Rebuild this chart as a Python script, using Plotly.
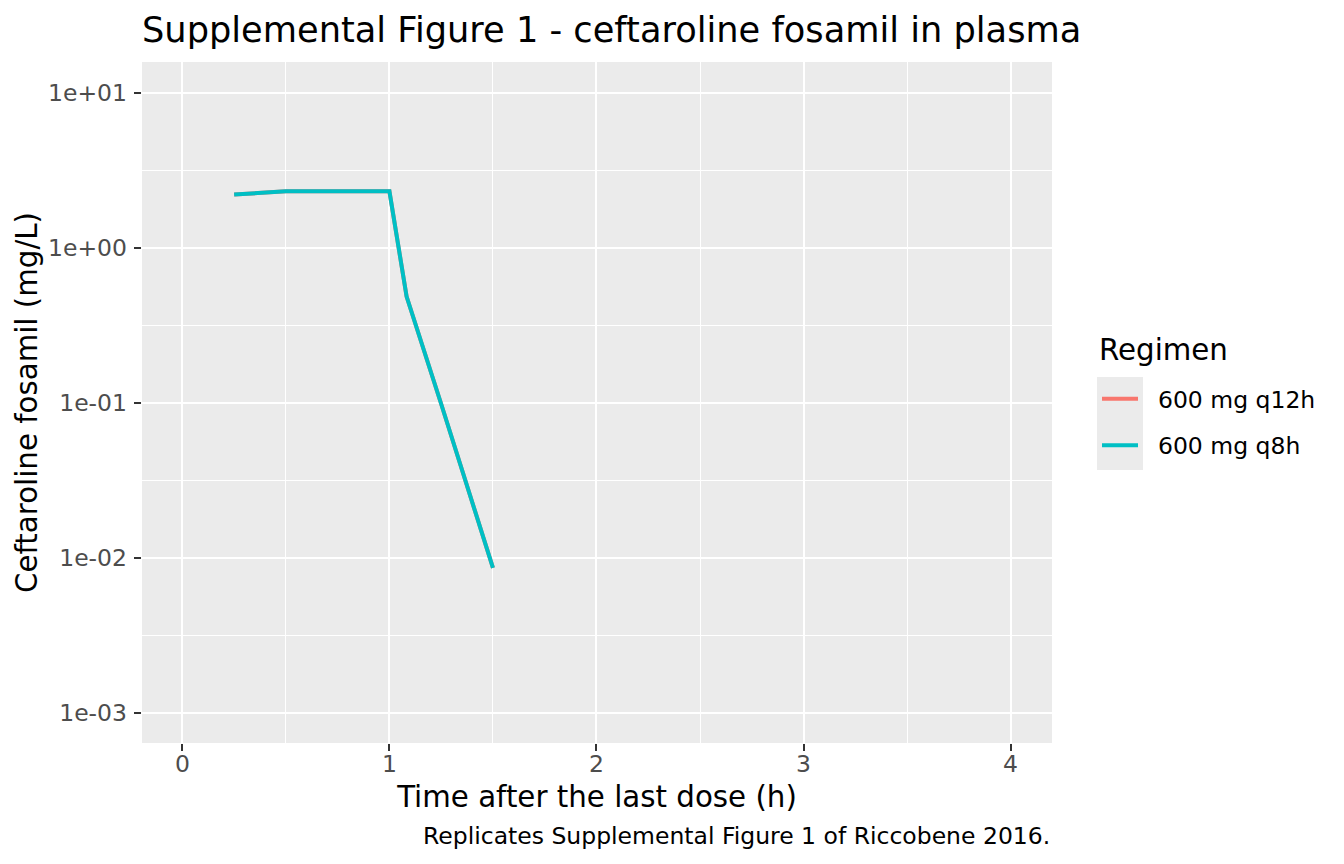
import plotly.graph_objects as go

# Data
time_h = [0.25, 0.5, 1.0, 1.083, 1.25, 1.5]
conc_q12h = [2.20, 2.31, 2.31, 0.483, 0.098, 0.0086]
conc_q8h = [2.20, 2.31, 2.31, 0.483, 0.098, 0.0086]
regimens = ["600 mg q12h", "600 mg q8h"]
colors = ["#F8766D", "#00BFC4"]

x_ticks = [0, 1, 2, 3, 4]
x_minor = [0.5, 1.5, 2.5, 3.5]
y_ticks = [1e-3, 1e-2, 1e-1, 1e0, 1e1]
y_ticktext = ["1e-03", "1e-02", "1e-01", "1e+00", "1e+01"]
y_minor = [10 ** (k + 0.5) for k in range(-4, 2)]

W, H = 1344, 864
L, R, T, B = 142, 1052, 62, 743
FONT = "DejaVu Sans"
TICK_SIZE = 23.5
AXIS_TITLE_SIZE = 29.3
TITLE_SIZE = 35.2
NBSP = "\u00a0"

fig = go.Figure()
for name, ys, col, grp in zip(regimens, [conc_q12h, conc_q8h], colors, ["a", "b"]):
    fig.add_trace(go.Scatter(
        x=time_h, y=ys, mode="lines", name=NBSP * 2 + name, legendgroup=grp,
        line=dict(color=col, width=4),
    ))

axis_common = dict(
    showline=False, zeroline=False,
    gridcolor="#FFFFFF", gridwidth=2.2,
    ticks="outside", ticklen=7.3, tickwidth=2, tickcolor="#333333",
    tickfont=dict(family=FONT, size=TICK_SIZE, color="#4D4D4D"),
)

fig.update_xaxes(
    range=[-0.195, 4.2], tickvals=x_ticks,
    minor=dict(tickvals=x_minor, showgrid=True, gridcolor="#FFFFFF", gridwidth=1.1, ticks=""),
    title=dict(text="Time after the last dose (h)", font=dict(family=FONT, size=AXIS_TITLE_SIZE, color="#000000"), standoff=9),
    ticklabelstandoff=-8,
    **axis_common,
)
fig.update_yaxes(
    type="log", range=[-3.196, 1.198], tickvals=y_ticks, ticktext=y_ticktext,
    minor=dict(tickvals=y_minor, showgrid=True, gridcolor="#FFFFFF", gridwidth=1.1, ticks=""),
    title=dict(text="Ceftaroline fosamil (mg/L)", font=dict(family=FONT, size=AXIS_TITLE_SIZE, color="#000000"), standoff=1),
    ticklabelstandoff=2,
    **axis_common,
)

pw = R - L
ph = B - T
def px_x(p):
    return (p - L) / pw
def px_y(p):
    return (B - p) / ph

fig.update_layout(
    width=W, height=H,
    margin=dict(l=L, r=W - R, t=T, b=H - B, pad=0),
    paper_bgcolor="#FFFFFF", plot_bgcolor="#EBEBEB",
    font=dict(family=FONT, color="#000000"),
    title=dict(
        text="Supplemental Figure 1 - ceftaroline fosamil in plasma",
        font=dict(family=FONT, size=TITLE_SIZE, color="#000000"),
        x=0, xref="paper", xanchor="left",
        y=1 - 30 / H, yref="container", yanchor="middle",
    ),
    legend=dict(
        font=dict(family=FONT, size=TICK_SIZE, color="#000000"),
        x=px_x(1097), xanchor="left", y=px_y(377), yanchor="top",
        bgcolor="rgba(0,0,0,0)", tracegroupgap=13, itemwidth=36,
    ),
    shapes=[dict(
        type="rect", xref="paper", yref="paper",
        x0=px_x(1097), x1=px_x(1143), y0=px_y(377), y1=px_y(470),
        fillcolor="#EBEBEB", line=dict(width=0), layer="below",
    )],
    annotations=[
        dict(
            text="Replicates Supplemental Figure 1 of Riccobene 2016.",
            xref="paper", yref="paper", x=1, y=px_y(836),
            xanchor="right", yanchor="middle", showarrow=False,
            font=dict(family=FONT, size=TICK_SIZE, color="#000000"),
        ),
        dict(
            text="Regimen",
            xref="paper", yref="paper", x=px_x(1097), y=px_y(350),
            xanchor="left", yanchor="middle", showarrow=False,
            font=dict(family=FONT, size=AXIS_TITLE_SIZE, color="#000000"),
        ),
    ],
)

fig.write_html(
    "out.html",
    config={"displayModeBar": False},
    post_script="document.body.style.margin='0';document.body.style.overflow='hidden';",
)
